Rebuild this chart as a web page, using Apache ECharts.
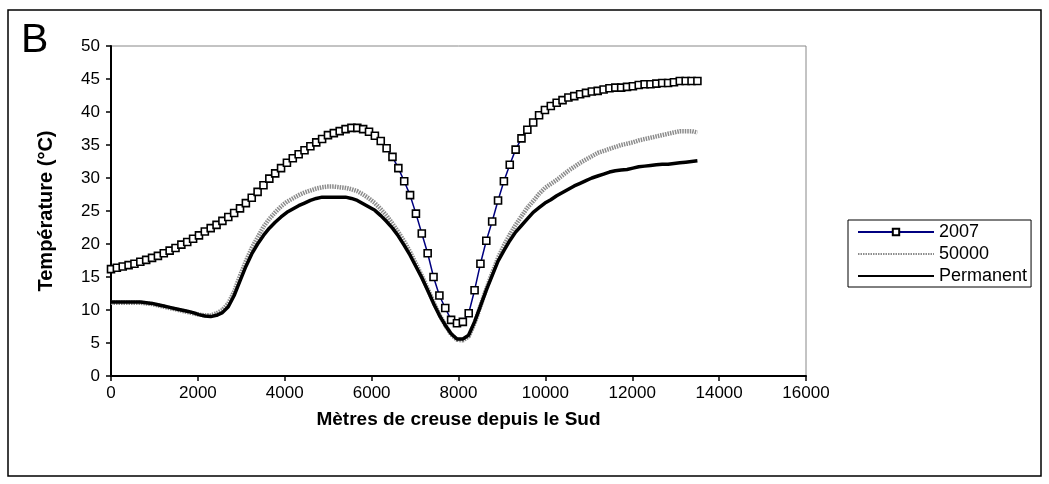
<!DOCTYPE html>
<html>
<head>
<meta charset="utf-8">
<script src="https://cdn.jsdelivr.net/npm/echarts@6/dist/echarts.min.js"></script>
<style>
html, body { margin: 0; padding: 0; background: #fff; }
#chart { width: 1049px; height: 484px; }
</style>
</head>
<body>
<div id="chart"></div>
<script>
// distance along the gallery (m) and temperatures (°C)
var distances = [
	0, 135, 270, 405, 540, 675, 810, 945, 1080, 1215,
	1350, 1485, 1620, 1755, 1890, 2025, 2160, 2295, 2430, 2565,
	2700, 2835, 2970, 3105, 3240, 3375, 3510, 3645, 3780, 3915,
	4050, 4185, 4320, 4455, 4590, 4725, 4860, 4995, 5130, 5265,
	5400, 5535, 5670, 5805, 5940, 6075, 6210, 6345, 6480, 6615,
	6750, 6885, 7020, 7155, 7290, 7425, 7560, 7695, 7830, 7965,
	8100, 8235, 8370, 8505, 8640, 8775, 8910, 9045, 9180, 9315,
	9450, 9585, 9720, 9855, 9990, 10125, 10260, 10395, 10530, 10665,
	10800, 10935, 11070, 11205, 11340, 11475, 11610, 11745, 11880, 12015,
	12150, 12285, 12420, 12555, 12690, 12825, 12960, 13095, 13230, 13365,
	13500
];

var temp2007 = [
	16.2, 16.4, 16.6, 16.8, 17.0, 17.3, 17.6, 17.9, 18.2, 18.6,
	19.0, 19.4, 19.9, 20.3, 20.8, 21.3, 21.9, 22.4, 22.9, 23.5,
	24.1, 24.7, 25.4, 26.2, 27.0, 27.9, 28.9, 29.9, 30.7, 31.5,
	32.3, 33.0, 33.6, 34.2, 34.8, 35.4, 35.9, 36.5, 36.8, 37.1,
	37.4, 37.6, 37.6, 37.4, 37.0, 36.4, 35.6, 34.5, 33.2, 31.5,
	29.5, 27.4, 24.6, 21.6, 18.6, 15.0, 12.2, 10.3, 8.5, 8.0,
	8.2, 9.5, 13.0, 17.0, 20.5, 23.4, 26.6, 29.5, 32.0, 34.3,
	36.0, 37.3, 38.4, 39.5, 40.3, 40.9, 41.4, 41.8, 42.2, 42.4,
	42.7, 42.9, 43.1, 43.2, 43.4, 43.6, 43.7, 43.7, 43.8, 43.9,
	44.1, 44.2, 44.2, 44.3, 44.4, 44.4, 44.5, 44.7, 44.7, 44.7,
	44.7
];

var temp50000 = [
	11.1, 11.1, 11.1, 11.1, 11.1, 11.1, 11.0, 10.9, 10.7, 10.5,
	10.3, 10.1, 9.9, 9.7, 9.5, 9.3, 9.2, 9.2, 9.5, 10.0,
	11.0, 12.8, 15.2, 17.4, 19.4, 21.0, 22.6, 23.8, 24.8, 25.7,
	26.4, 26.9, 27.4, 27.8, 28.1, 28.4, 28.6, 28.7, 28.7, 28.6,
	28.5, 28.3, 28.0, 27.5, 26.9, 26.2, 25.3, 24.3, 23.1, 21.8,
	20.4, 18.8, 17.0, 15.2, 13.2, 11.2, 9.3, 7.7, 6.3, 5.5,
	5.4, 6.0, 8.0, 10.6, 13.2, 15.6, 17.9, 19.8, 21.4, 22.9,
	24.2, 25.5, 26.5, 27.6, 28.5, 29.1, 29.7, 30.4, 31.1, 31.7,
	32.3, 32.8, 33.3, 33.8, 34.1, 34.4, 34.7, 35.0, 35.2, 35.4,
	35.7, 35.9, 36.1, 36.3, 36.5, 36.7, 36.9, 37.1, 37.1, 37.1,
	36.9
];

var tempPermanent = [
	11.2, 11.2, 11.2, 11.2, 11.2, 11.2, 11.1, 11.0, 10.8, 10.6,
	10.4, 10.2, 10.0, 9.8, 9.6, 9.3, 9.1, 9.0, 9.2, 9.6,
	10.5, 12.2, 14.4, 16.6, 18.5, 20.0, 21.3, 22.4, 23.3, 24.1,
	24.8, 25.3, 25.8, 26.2, 26.6, 26.9, 27.1, 27.1, 27.1, 27.1,
	27.1, 26.9, 26.6, 26.1, 25.6, 25.1, 24.3, 23.4, 22.4, 21.2,
	19.8, 18.3, 16.6, 14.9, 13.0, 11.0, 9.2, 7.7, 6.4, 5.6,
	5.6, 6.2, 8.2, 10.6, 13.0, 15.2, 17.4, 19.0, 20.5, 21.8,
	22.8, 23.8, 24.8, 25.5, 26.2, 26.7, 27.3, 27.8, 28.3, 28.8,
	29.2, 29.6, 30.0, 30.3, 30.6, 30.9, 31.1, 31.2, 31.3, 31.5,
	31.7, 31.8, 31.9, 32.0, 32.1, 32.1, 32.2, 32.3, 32.4, 32.5,
	32.6
];

var seriesNames = ['2007', '50000', 'Permanent'];

function pairs(ys) {
	return distances.map(function (d, i) { return [d, ys[i]]; });
}

var font = '"Liberation Sans", Arial, sans-serif';
var chart = echarts.init(document.getElementById('chart'));

chart.setOption({
	animation: false,
	textStyle: { fontFamily: font },
	grid: {
		left: 111, right: 243, top: 46, bottom: 108,
		show: true, borderColor: '#888', borderWidth: 1
	},
	graphic: [
		{
			type: 'rect',
			shape: { x: 8, y: 10, width: 1033, height: 466 },
			style: { fill: null, stroke: '#000', lineWidth: 1.5 }
		},
		{
			type: 'text', left: 21, top: 20,
			style: { text: 'B', fontSize: 41, fontFamily: font, fill: '#000' }
		}
	],
	legend: {
		data: [
			{ name: seriesNames[0] },
			{ name: seriesNames[1], itemStyle: { opacity: 0 } },
			{ name: seriesNames[2], itemStyle: { opacity: 0 } }
		],
		orient: 'vertical',
		left: 848, top: 220,
		itemWidth: 76, itemHeight: 8, itemGap: 4,
		padding: [3, 4, 2, 9],
		borderColor: '#000', borderWidth: 1,
		textStyle: { fontSize: 18, lineHeight: 17, color: '#000', fontFamily: font }
	},
	xAxis: {
		type: 'value',
		min: 0, max: 16000, interval: 2000,
		name: 'Mètres de creuse depuis le Sud',
		nameLocation: 'middle', nameGap: 34,
		nameTextStyle: { fontSize: 19, fontWeight: 'bold', color: '#000', fontFamily: font },
		axisLine: { show: true, lineStyle: { color: '#000', width: 2 } },
		axisTick: { show: true, inside: false, length: 5, lineStyle: { color: '#000', width: 1.5 } },
		axisLabel: {
			fontSize: 17, color: '#000', margin: 9, fontFamily: font,
			formatter: function (v) { return String(v); }
		},
		splitLine: { show: false }
	},
	yAxis: {
		type: 'value',
		min: 0, max: 50, interval: 5,
		name: 'Température (°C)',
		nameLocation: 'middle', nameGap: 55,
		nameTextStyle: { fontSize: 20, fontWeight: 'bold', color: '#000', fontFamily: font },
		axisLine: { show: true, lineStyle: { color: '#000', width: 2 } },
		axisTick: { show: true, inside: false, length: 5, lineStyle: { color: '#000', width: 1.5 } },
		axisLabel: { fontSize: 17, color: '#000', margin: 11, fontFamily: font },
		splitLine: { show: false }
	},
	series: [
		{
			name: '2007',
			type: 'line',
			data: pairs(temp2007),
			symbol: 'rect',
			symbolSize: 7,
			lineStyle: { color: '#000080', width: 1.5 },
			itemStyle: { color: '#fff', borderColor: '#000', borderWidth: 1.6 },
			z: 4
		},
		{
			name: '50000',
			type: 'line',
			data: pairs(temp50000),
			symbol: 'none',
			lineStyle: { color: '#8c8c8c', width: 4.5, type: [1.5, 1] },
			itemStyle: { color: '#8c8c8c' },
			z: 2
		},
		{
			name: 'Permanent',
			type: 'line',
			data: pairs(tempPermanent),
			symbol: 'none',
			lineStyle: { color: '#000', width: 3.5 },
			itemStyle: { color: '#000' },
			z: 3
		}
	]
});
</script>
</body>
</html>
